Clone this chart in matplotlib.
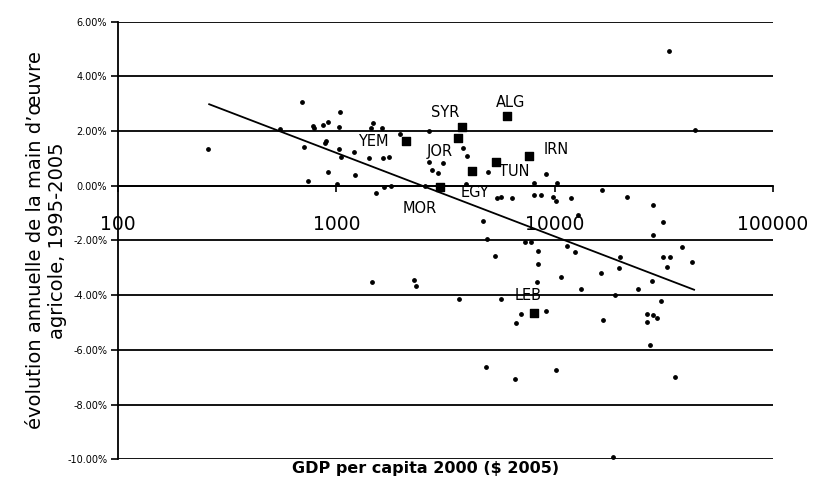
import numpy as np
import matplotlib
matplotlib.use("Agg")
import matplotlib.pyplot as plt
from matplotlib.ticker import FuncFormatter, FixedLocator, NullLocator

# GDP per capita 2000 ($ 2005) and annual change of agricultural labour (%)
gdp = [259, 694, 551, 784, 792, 871, 912, 1042, 1028, 893,
       882, 712, 1024, 1044, 912, 742, 1010, 1198, 1211, 1476,
       1433, 1616, 1411, 1627, 1743, 1657, 1780, 1514, 1957, 2664,
       2664, 3073, 2735, 2914, 2548, 3807, 3958, 3908, 4956, 9163,
       8013, 10300, 16510, 5462, 5703, 6366, 8013, 8698, 9874, 10130,
       11870, 21460, 28230, 12780, 4715, 31340, 28230, 4877, 7340, 7762,
       33570, 44220, 38220, 5319, 8356, 12390, 11410, 8420, 19910, 31530,
       33860, 42610, 32690, 19700, 16250, 10740, 8315, 28050, 13160, 24220,
       18980, 3629, 5680, 30840, 7021, 9093, 6640, 16740, 26410, 28140,
       26550, 29510, 27410, 4836, 6591, 10140, 35760, 18490, 1449, 2262,
       2325]
change = [1.36, 3.08, 2.07, 2.19, 2.10, 2.22, 2.33, 2.69, 2.14, 1.64,
          1.55, 1.43, 1.33, 1.04, 0.49, 0.16, 0.08, 1.23, 0.38, 2.28,
          2.10, 2.11, 1.01, 1.02, 1.05, -0.06, -0.02, -0.27, 1.91, 2.02,
          0.86, 0.83, 0.57, 0.46, 0.01, 1.39, 1.08, 0.08, 0.52, 0.44,
          0.10, 0.09, -0.16, -0.45, -0.41, -0.44, -0.32, -0.34, -0.40, -0.55,
          -0.44, -0.42, -0.72, -1.08, -1.27, -1.33, -1.81, -1.95, -2.07, -2.04,
          4.92, 2.05, -2.25, -2.57, -2.38, -2.42, -2.20, -2.87, -2.59, -2.61,
          -2.61, -2.77, -2.96, -3.01, -3.18, -3.35, -3.53, -3.47, -3.78, -3.78,
          -3.98, -4.14, -4.13, -4.21, -4.70, -4.58, -5.02, -4.89, -4.68, -4.71,
          -4.97, -4.84, -5.83, -6.64, -7.05, -6.74, -6.99, -9.93, -3.53, -3.44,
          -3.66]

countries = ["YEM", "SYR", "JOR", "ALG", "IRN", "TUN", "EGY", "MOR", "LEB"]
c_gdp = [2081, 3754, 3592, 6076, 7617, 5393, 4200, 2985, 8080]
c_change = [1.62, 2.16, 1.75, 2.55, 1.10, 0.87, 0.53, -0.05, -4.64]

# log trend line: change = a + b*log10(gdp)
trend_a, trend_b = 10.355, -3.051
trend_range = [261, 43600]

xticks = [100, 1000, 10000, 100000]
yticks = [6, 4, 2, 0, -2, -4, -6, -8, -10]

fig = plt.figure(figsize=(8.14, 4.84), dpi=100)
ax = fig.add_axes([0.1453, 0.051, 0.804, 0.9042])

for v in yticks:
    ax.axhline(v, color="black", lw=1.3, zorder=1)

tx = np.array(trend_range, dtype=float)
ax.plot(tx, trend_a + trend_b * np.log10(tx), color="black", lw=1.3, zorder=2)

ax.scatter(gdp, change, s=6, color="black", zorder=3)
ax.scatter(c_gdp, c_change, s=38, marker="s", color="black", zorder=4)

# label offsets in pixels
offsets = [(-33, 0), (-17, 14), (-18, -14), (3, 14), (27, 6),
           (18, -10), (3, -21), (-20, -21), (-6, 17)]
for name, x, y, off in zip(countries, c_gdp, c_change, offsets):
    ax.annotate(name, (x, y), xytext=off, textcoords="offset pixels",
                ha="center", va="center", fontsize=10.5, zorder=5)

ax.set_xscale("log")
ax.set_xlim(100, 100000)
ax.set_ylim(-10, 6)
ax.xaxis.set_major_locator(FixedLocator(xticks))
ax.xaxis.set_minor_locator(NullLocator())
ax.xaxis.set_major_formatter(FuncFormatter(lambda v, p: f"{v:.0f}"))
ax.yaxis.set_major_locator(FixedLocator(yticks))
ax.yaxis.set_major_formatter(FuncFormatter(lambda v, p: f"{v:.2f}%"))

ax.spines["top"].set_visible(False)
ax.spines["right"].set_visible(False)
ax.spines["bottom"].set_position(("data", 0))
ax.spines["bottom"].set_linewidth(1.3)
ax.spines["left"].set_linewidth(1.3)
ax.tick_params(axis="x", direction="out", length=4, width=1.2,
               labelsize=13.5, pad=17)
ax.tick_params(axis="y", direction="out", length=5, width=1.2,
               labelsize=7, pad=3)

ax.set_ylabel("évolution annuelle de la main d’œuvre\nagricole, 1995-2005",
              fontsize=14, labelpad=0)
ax.text(0.47, -0.02, "GDP per capita 2000 ($ 2005)", transform=ax.transAxes,
        ha="center", va="center", fontsize=11.5, fontweight="bold")

fig.savefig("out.png", dpi=100)
